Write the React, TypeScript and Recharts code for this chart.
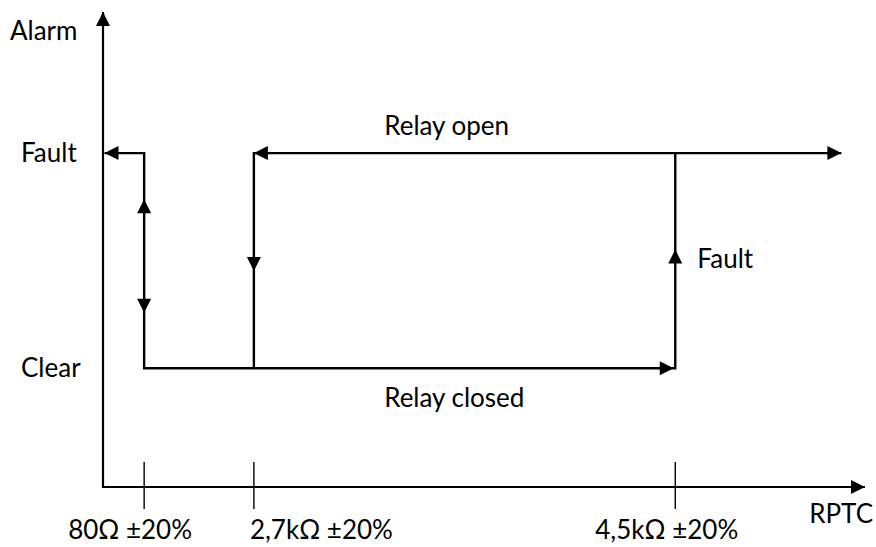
import React from "react";
import { ComposedChart, Line, Scatter, XAxis, YAxis } from "recharts";

// schematic units: x 0..100 along RPTC, y 0..100 along Alarm
const resistanceTicks = [5.4, 19.8, 75.1];
const resistanceLabels = ["80Ω ±20%", "2,7kΩ ±20%", "4,5kΩ ±20%"];

const alarmLevels = [25, 70.3];
const alarmLabels = ["Clear", "Fault"];

// axes (drawn as one polyline)
const axisPath = [
    { x: 0, y: 100 },
    { x: 0, y: 0 },
    { x: 100, y: 0 },
];

// 80Ω fault -> clear -> 4.5k fault
const lowPath = [
    { x: 0.2, y: 70.3 },
    { x: 5.4, y: 70.3 },
    { x: 5.4, y: 25 },
    { x: 75.1, y: 25 },
    { x: 75.1, y: 70.3 },
];

// relay open line and drop at 2.7k
const highPath = [
    { x: 96.9, y: 70.3 },
    { x: 19.8, y: 70.3 },
    { x: 19.8, y: 25 },
];

const arrowHeads = [
    { x: 0, y: 100, dir: "up" },
    { x: 100, y: 0, dir: "right" },
    { x: 0.2, y: 70.3, dir: "left" },
    { x: 5.4, y: 60.6, dir: "up" },
    { x: 5.4, y: 36.7, dir: "down" },
    { x: 19.8, y: 70.3, dir: "left" },
    { x: 19.8, y: 45.5, dir: "down" },
    { x: 96.9, y: 70.3, dir: "right" },
    { x: 74.9, y: 25, dir: "right" },
    { x: 75.1, y: 50, dir: "up" },
];

const notes = [
    { x: 45.1, y: 74.1, text: "Relay open", anchor: "middle" },
    { x: 46.1, y: 16.9, text: "Relay closed", anchor: "middle" },
    { x: 78.0, y: 46.1, text: "Fault", anchor: "start" },
];

const FONT = "Lato, 'Open Sans', sans-serif";
const FS = 26;
const INK = "#000";

const Arrow = (props: any) => {
    const { cx, cy, payload } = props;
    const L = 14;
    const H = 7;
    let pts = "";
    switch (payload.dir) {
        case "up": pts = `${cx},${cy} ${cx - H},${cy + L} ${cx + H},${cy + L}`; break;
        case "down": pts = `${cx},${cy} ${cx - H},${cy - L} ${cx + H},${cy - L}`; break;
        case "left": pts = `${cx},${cy} ${cx + L},${cy - H} ${cx + L},${cy + H}`; break;
        default: pts = `${cx},${cy} ${cx - L},${cy - H} ${cx - L},${cy + H}`;
    }
    return <polygon points={pts} fill={INK} />;
};

const Note = (props: any) => {
    const { cx, cy, payload } = props;
    return (
        <text x={cx} y={cy} textAnchor={payload.anchor} fontFamily={FONT} fontSize={FS} fill={INK}>
            {payload.text}
        </text>
    );
};

// label start offsets relative to the tick, as placed in the original drawing
const labelShift = [-76, -4, -80];

const ResistanceTick = (props: any) => {
    const { x, y, payload, index } = props;
    return (
        <g>
            <line x1={x} x2={x} y1={y - 25} y2={y + 22} stroke={INK} strokeWidth={1.4} />
            <text x={x + labelShift[index]} y={y + 52} textAnchor="start" fontFamily={FONT} fontSize={FS} fill={INK}>
                {resistanceLabels[resistanceTicks.indexOf(payload.value)]}
            </text>
        </g>
    );
};

const AlarmTick = (props: any) => {
    const { y, payload } = props;
    return (
        <text x={21} y={y + 9} textAnchor="start" fontFamily={FONT} fontSize={FS} fill={INK}>
            {alarmLabels[alarmLevels.indexOf(payload.value)]}
        </text>
    );
};

export default function App() {
    return (
        <div style={{ position: "absolute", left: 0, top: 0, background: "#fff" }}>
            <ComposedChart width={876} height={547} margin={{ top: 12, right: 11, bottom: 0, left: 0 }}>
                <XAxis
                    dataKey="x"
                    type="number"
                    domain={[0, 100]}
                    ticks={resistanceTicks}
                    interval={0}
                    axisLine={false}
                    tickLine={false}
                    tickSize={0}
                    tickMargin={0}
                    height={60}
                    tick={<ResistanceTick />}
                    label={{
                        content: (p: any) => (
                            <text x={p.viewBox.x + p.viewBox.width + 8} y={p.viewBox.y + 36} textAnchor="end" fontFamily={FONT} fontSize={FS} fill={INK}>
                                RPTC
                            </text>
                        ),
                    }}
                />
                <YAxis
                    dataKey="y"
                    type="number"
                    domain={[0, 100]}
                    ticks={alarmLevels}
                    interval={0}
                    axisLine={false}
                    tickLine={false}
                    tickSize={0}
                    tickMargin={0}
                    width={103}
                    tick={<AlarmTick />}
                    label={{
                        content: (p: any) => (
                            <text x={10} y={p.viewBox.y + 28} textAnchor="start" fontFamily={FONT} fontSize={FS} fill={INK}>
                                Alarm
                            </text>
                        ),
                    }}
                />
                <Line data={axisPath} dataKey="y" type="linear" stroke={INK} strokeWidth={2.2} dot={false} activeDot={false} strokeLinejoin="miter" isAnimationActive={false} />
                <Line data={lowPath} dataKey="y" type="linear" stroke={INK} strokeWidth={2.4} dot={false} activeDot={false} strokeLinejoin="miter" isAnimationActive={false} />
                <Line data={highPath} dataKey="y" type="linear" stroke={INK} strokeWidth={2.4} dot={false} activeDot={false} strokeLinejoin="miter" isAnimationActive={false} />
                <Scatter data={arrowHeads} dataKey="y" shape={<Arrow />} isAnimationActive={false} />
                <Scatter data={notes} dataKey="y" shape={<Note />} isAnimationActive={false} />
            </ComposedChart>
        </div>
    );
}
